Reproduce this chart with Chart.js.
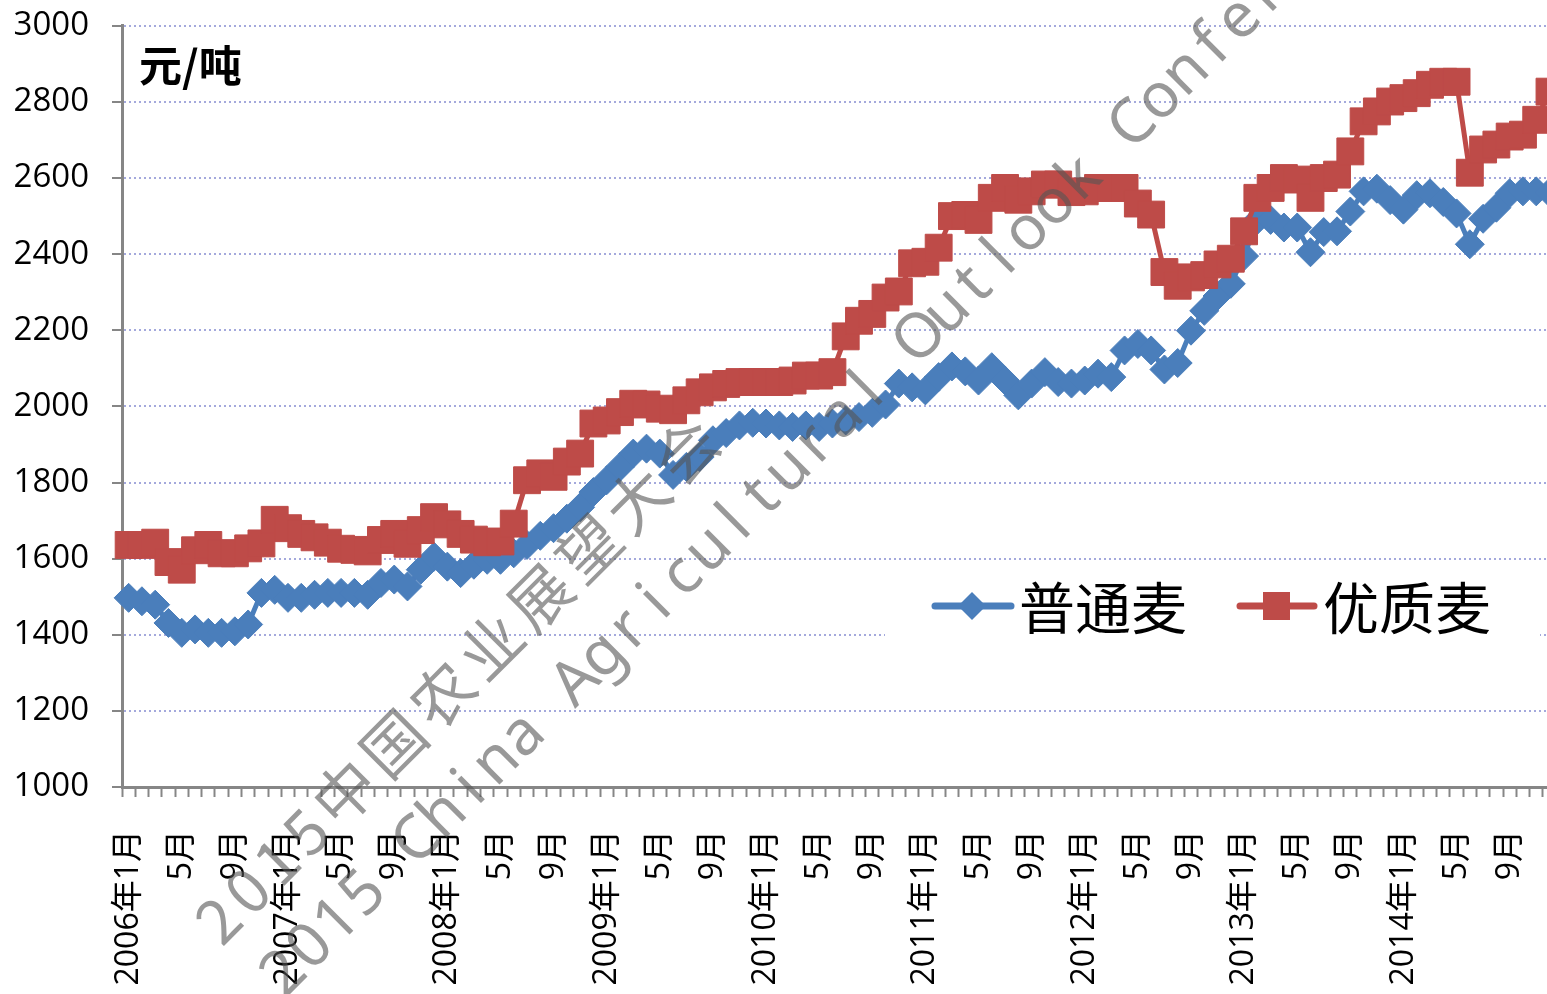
<!DOCTYPE html>
<html>
<head>
<meta charset="utf-8">
<script src="https://cdn.jsdelivr.net/npm/chart.js@4.4.1/dist/chart.umd.min.js"></script>
<style>
  html, body { margin: 0; padding: 0; background: #fff; overflow: hidden; }
  #wrap { width: 1621px; height: 1011px; margin-top: -17px; }
</style>
</head>
<body>
<div id="wrap"><canvas id="chart"></canvas></div>
<script>
// categories: 2006年1月 .. 2014年12月
const years = [2006, 2007, 2008, 2009, 2010, 2011, 2012, 2013, 2014];
const months = [1, 2, 3, 4, 5, 6, 7, 8, 9, 10, 11, 12];
const categories = [];
years.forEach(y => months.forEach(m => categories.push(m === 1 ? y + '年1月' : m + '月')));

// 普通麦 (元/吨)
const putongmai = [
    1497, 1488, 1479, 1431, 1405, 1414, 1405, 1405, 1409, 1427, 1510, 1518,
    1497, 1497, 1505, 1510, 1510, 1510, 1505, 1536, 1545, 1527, 1571, 1605,
    1579, 1562, 1584, 1597, 1597, 1614, 1636, 1660, 1680, 1705, 1735, 1775,
    1806, 1841, 1876, 1889, 1876, 1820, 1841, 1867, 1911, 1930, 1950, 1957,
    1955, 1950, 1946, 1950, 1946, 1955, 1963, 1972, 1983, 2005, 2060, 2050,
    2042, 2077, 2105, 2092, 2068, 2103, 2068, 2029, 2060, 2090, 2064, 2060,
    2068, 2086, 2077, 2147, 2164, 2147, 2097, 2114, 2199, 2251, 2290, 2322,
    2395, 2490, 2490, 2470, 2470, 2405, 2458, 2460, 2512, 2565, 2572, 2542,
    2517, 2555, 2560, 2537, 2507, 2426, 2493, 2522, 2560, 2565, 2565, 2562
];

// 优质麦 (元/吨)
const youzhimai = [
    1636, 1636, 1642, 1591, 1571, 1622, 1636, 1614, 1614, 1627, 1640, 1702,
    1680, 1665, 1656, 1642, 1626, 1623, 1619, 1649, 1665, 1639, 1675, 1709,
    1690, 1665, 1650, 1643, 1645, 1692, 1806, 1824, 1815, 1855, 1876, 1955,
    1963, 1985, 2007, 2005, 1994, 1990, 2016, 2037, 2050, 2059, 2064, 2064,
    2064, 2064, 2068, 2081, 2081, 2090, 2184, 2225, 2243, 2286, 2302, 2376,
    2380, 2417, 2500, 2503, 2490, 2548, 2574, 2543, 2565, 2583, 2583, 2563,
    2565, 2574, 2574, 2574, 2533, 2504, 2353, 2317, 2339, 2345, 2373, 2388,
    2460, 2548, 2574, 2600, 2596, 2548, 2600, 2609, 2670, 2749, 2775, 2801,
    2810, 2823, 2845, 2853, 2853, 2614, 2675, 2688, 2709, 2714, 2753, 2827
];

const seriesNames = ['普通麦', '优质麦'];
const yMin = 1000, yMax = 3000, yStep = 200;
const unitLabel = '元/吨';
const watermarkCn = '2015中国农业展望大会';
const watermarkEn = '2015 China Agricultural Outlook Conference';

const blue = '#4a7ebb';
const red = '#be4b48';
const axisGray = '#868686';
const gridBlue = '#a4a9dc';
const labelFont = "'Open Sans', 'Noto Sans CJK SC', sans-serif";
const shiftY = 17; // canvas is pulled up by this much in the page

const overlay = {
    id: 'overlay',
    afterDraw(chart) {
        const ctx = chart.ctx;
        ctx.save();
        ctx.translate(0, shiftY);

        // unit label
        ctx.fillStyle = '#000';
        ctx.font = "bold 43px 'Noto Sans CJK SC'";
        ctx.textBaseline = 'middle';
        ctx.textAlign = 'left';
        ctx.fillText(unitLabel, 139, 66);

        // legend box inside the plot
        ctx.fillStyle = '#fff';
        ctx.fillRect(885, 568, 655, 76);

        const ly = 606;
        // 普通麦
        ctx.strokeStyle = blue;
        ctx.lineWidth = 7;
        ctx.lineCap = 'round';
        ctx.beginPath();
        ctx.moveTo(935, ly);
        ctx.lineTo(1011, ly);
        ctx.stroke();
        ctx.fillStyle = blue;
        ctx.beginPath();
        ctx.moveTo(972, ly - 14);
        ctx.lineTo(986, ly);
        ctx.lineTo(972, ly + 14);
        ctx.lineTo(958, ly);
        ctx.closePath();
        ctx.fill();
        // 优质麦
        ctx.strokeStyle = red;
        ctx.beginPath();
        ctx.moveTo(1240, ly);
        ctx.lineTo(1314, ly);
        ctx.stroke();
        ctx.fillStyle = red;
        ctx.fillRect(1263, ly - 14, 27, 28);

        ctx.fillStyle = '#000';
        ctx.font = "56px 'Noto Sans CJK SC'";
        ctx.fillText(seriesNames[0], 1019, ly + 2);
        ctx.fillText(seriesNames[1], 1323, ly + 2);

        // watermark
        const ang = -Math.PI / 4;
        ctx.fillStyle = 'rgba(85,85,85,0.6)';
        ctx.textBaseline = 'alphabetic';

        ctx.save();
        ctx.translate(222, 948);
        ctx.rotate(ang);
        ctx.font = "62px 'Noto Sans CJK SC'";
        let pos = 0;
        for (const ch of watermarkCn) {
            ctx.fillText(ch, pos, 0);
            pos += ctx.measureText(ch).width + 7;
        }
        ctx.restore();

        ctx.save();
        ctx.translate(284, 1000);
        ctx.rotate(ang);
        ctx.font = "62px 'Noto Sans', sans-serif";
        pos = 0;
        for (const ch of watermarkEn) {
            const w = ctx.measureText(ch).width;
            ctx.fillText(ch, pos + (37.5 - w) / 2, 0);
            pos += 37.5;
        }
        ctx.restore();

        ctx.restore();
    }
};

const ctx = document.getElementById('chart').getContext('2d');
new Chart(ctx, {
    type: 'line',
    data: {
        labels: categories,
        datasets: [
            {
                label: seriesNames[0],
                data: putongmai,
                borderColor: blue,
                backgroundColor: blue,
                borderWidth: 5,
                pointStyle: 'rectRot',
                pointRadius: 14.5,
                pointBorderWidth: 1,
                pointBorderColor: blue,
                pointBackgroundColor: blue,
                tension: 0,
                clip: false,
                order: 2
            },
            {
                label: seriesNames[1],
                data: youzhimai,
                borderColor: red,
                backgroundColor: red,
                borderWidth: 5,
                pointStyle: 'rect',
                pointRadius: 19,
                pointBorderWidth: 1,
                pointBorderColor: red,
                pointBackgroundColor: red,
                tension: 0,
                clip: false,
                order: 1
            }
        ]
    },
    options: {
        responsive: true,
        maintainAspectRatio: false,
        animation: false,
        events: [],
        layout: { padding: { top: 7, right: 0, bottom: 0, left: 0 } },
        plugins: {
            legend: { display: false },
            tooltip: { enabled: false }
        },
        scales: {
            x: {
                offset: true,
                grid: {
                    display: true,
                    offset: true,
                    drawOnChartArea: false,
                    drawTicks: true,
                    tickLength: 10,
                    tickColor: axisGray,
                    tickWidth: 2
                },
                border: { color: axisGray, width: 3 },
                ticks: {
                    autoSkip: false,
                    maxRotation: 90,
                    minRotation: 90,
                    padding: 33,
                    color: '#000',
                    font: { family: labelFont, size: 32 },
                    callback: (v, i) => (i % 4 === 0 ? categories[i] : '')
                },
                afterFit: s => { s.height = 207; }
            },
            y: {
                min: yMin,
                max: yMax,
                ticks: {
                    stepSize: yStep,
                    padding: 23,
                    color: '#000',
                    font: { family: labelFont, size: 33 },
                    callback: v => String(v)
                },
                grid: {
                    color: c => (c.tick && c.tick.value === yMin ? 'rgba(0,0,0,0)' : gridBlue),
                    lineWidth: 2,
                    tickColor: axisGray,
                    tickWidth: 2,
                    tickLength: 10,
                    tickBorderDash: []
                },
                border: { color: axisGray, width: 3, dash: [2, 3] },
                afterFit: s => { s.width = 122; }
            }
        }
    },
    plugins: [overlay]
});
</script>
</body>
</html>
